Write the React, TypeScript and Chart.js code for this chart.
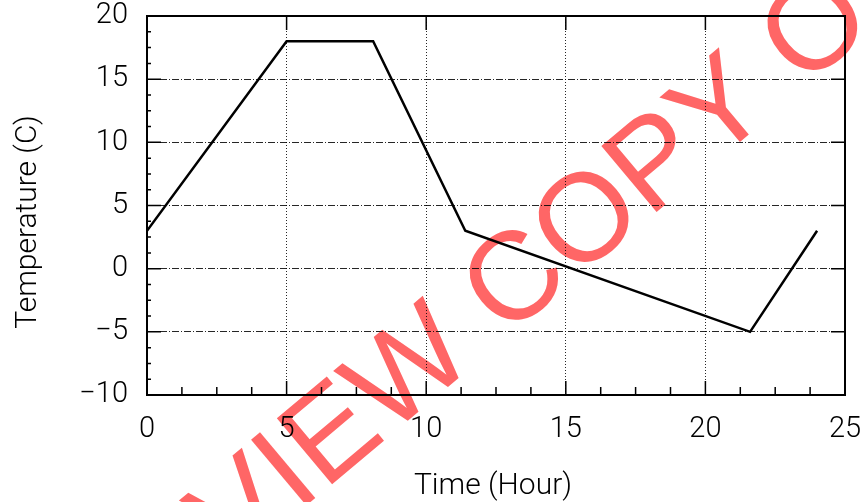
import React, { useEffect, useRef } from "react";
import { Chart, registerables } from "chart.js";

Chart.register(...registerables);

// ---- data ----
const hours = [0, 5, 8.1, 11.4, 21.6, 24];
const temps = [3, 18, 18, 3, -5, 3];
const xRange = [0, 25];
const yRange = [-10, 20];
const majorStep = 5;
const minorStep = 1.25;
const xTitle = "Time (Hour)";
const yTitle = "Temperature (C)";
const watermark = "PREVIEW COPY ONLY";

const FONT = "Roboto, 'Liberation Sans', sans-serif";

const framePlugin = {
  id: "frame",
  afterDatasetsDraw(chart: any) {
    const { ctx, chartArea: a, scales } = chart;
    const x = scales.x;
    const y = scales.y;
    ctx.save();
    ctx.strokeStyle = "#000";
    ctx.lineWidth = 2;
    ctx.strokeRect(a.left, a.top, a.right - a.left, a.bottom - a.top);
    ctx.lineWidth = 1.5;
    ctx.beginPath();
    for (let v = xRange[0]; v <= xRange[1] + 1e-9; v += minorStep) {
      const px = x.getPixelForValue(v);
      const major = Math.abs(v / majorStep - Math.round(v / majorStep)) < 1e-6;
      const len = major ? 14 : 8;
      ctx.moveTo(px, a.bottom);
      ctx.lineTo(px, a.bottom - len);
      if (major) {
        ctx.moveTo(px, a.top);
        ctx.lineTo(px, a.top + len);
      }
    }
    for (let v = yRange[0]; v <= yRange[1] + 1e-9; v += minorStep) {
      const py = y.getPixelForValue(v);
      const major = Math.abs(v / majorStep - Math.round(v / majorStep)) < 1e-6;
      const len = major ? 14 : 4;
      ctx.moveTo(a.left, py);
      ctx.lineTo(a.left + len, py);
      if (major) {
        ctx.moveTo(a.right, py);
        ctx.lineTo(a.right - len, py);
      }
    }
    ctx.stroke();
    ctx.restore();
  },
  afterDraw(chart: any) {
    const { ctx, chartArea: a } = chart;
    ctx.save();
    ctx.fillStyle = "#000";
    ctx.font = `300 30px ${FONT}`;
    ctx.textAlign = "center";
    ctx.textBaseline = "middle";
    ctx.fillText(xTitle, (a.left + a.right) / 2 - 3, 486);
    ctx.translate(28, 222);
    ctx.rotate(-Math.PI / 2);
    ctx.fillText(yTitle, 0, 0);
    ctx.restore();

    // watermark
    ctx.save();
    ctx.globalCompositeOperation = "multiply";
    ctx.fillStyle = "#FF6666";
    ctx.font = "125px 'Liberation Sans', Arial, sans-serif";
    ctx.translate(505, 339);
    ctx.rotate((-40 * Math.PI) / 180);
    const w = ctx.measureText("PREVIEW ").width;
    ctx.textAlign = "left";
    ctx.textBaseline = "alphabetic";
    ctx.fillText(watermark, -w, 0);
    ctx.restore();
  },
};

export default function App() {
  const ref = useRef<HTMLCanvasElement | null>(null);
  useEffect(() => {
    if (!ref.current) return;
    const chart = new Chart(ref.current, {
      type: "line",
      data: {
        datasets: [
          {
            data: hours.map((h, i) => ({ x: h, y: temps[i] })),
            borderColor: "#000",
            borderWidth: 2.5,
            pointRadius: 0,
            tension: 0,
            fill: false,
          },
        ],
      },
      options: {
        responsive: false,
        animation: false,
        events: [],
        layout: { padding: 0 },
        plugins: { legend: { display: false }, tooltip: { enabled: false } },
        scales: {
          x: {
            type: "linear",
            min: xRange[0],
            max: xRange[1],
            afterFit: (s: any) => {
              s.height = 107;
              s.paddingLeft = 0;
              s.paddingRight = 16;
            },
            ticks: {
              stepSize: majorStep,
              color: "#000",
              padding: 20,
              font: { family: FONT, size: 29, weight: "300", lineHeight: 1 },
              maxRotation: 0,
            },
            grid: {
              color: "rgba(0,0,0,0.85)",
              lineWidth: 1,
              drawTicks: false,
            },
            border: { display: true, color: "#000", width: 2, dash: [1, 2] },
          },
          y: {
            type: "linear",
            min: yRange[0],
            max: yRange[1],
            afterFit: (s: any) => {
              s.width = 147;
              s.paddingTop = 16;
              s.paddingBottom = 0;
            },
            ticks: {
              stepSize: majorStep,
              color: "#000",
              padding: 19,
              font: { family: FONT, size: 29, weight: "300", lineHeight: 1 },
              callback: (v: any) => String(v).replace("-", "\u2212"),
            },
            grid: {
              color: "rgba(0,0,0,0.85)",
              lineWidth: 1,
              drawTicks: false,
            },
            border: { display: true, color: "#000", width: 2, dash: [7, 2, 1, 2] },
          },
        },
      },
      plugins: [framePlugin],
    });
    return () => chart.destroy();
  }, []);
  return (
    <div style={{ position: "fixed", left: 0, top: 0, width: 861, height: 502, background: "#fff" }}>
      <canvas ref={ref} width={861} height={502} style={{ display: "block" }} />
    </div>
  );
}
